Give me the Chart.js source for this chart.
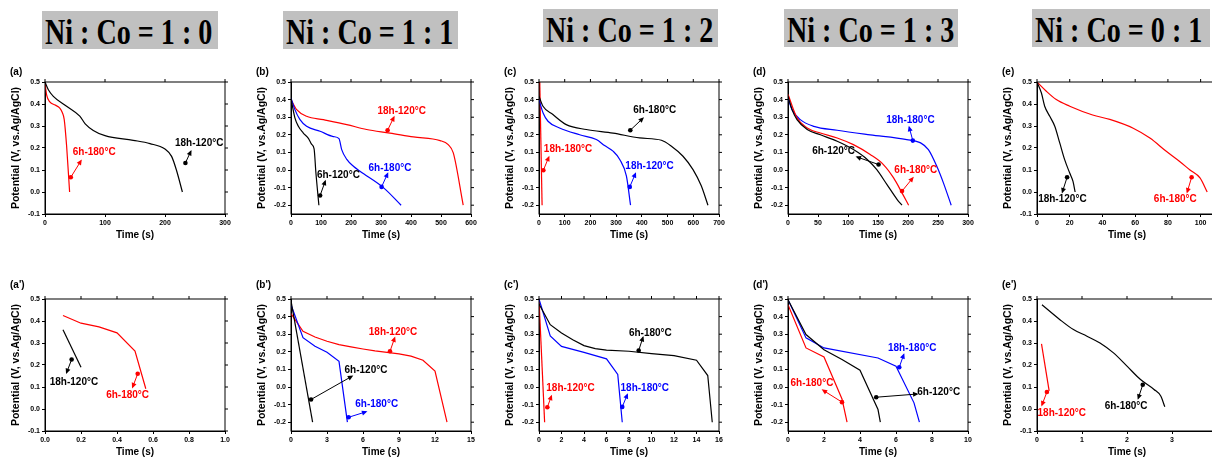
<!DOCTYPE html>
<html>
<head>
<meta charset="utf-8">
<script src="https://cdn.jsdelivr.net/npm/chart.js@4/dist/chart.umd.min.js"></script>
<style>
html, body { margin: 0; padding: 0; background: #fff; overflow: hidden; width: 1212px; height: 458px; }
.hdr { position: absolute; height: 38px; background: #c0c0c0; overflow: hidden; }
.hdr span { position: absolute; left: 3px; top: 0; line-height: 38px; font: bold 36px "Liberation Serif", "Times New Roman", serif;
  white-space: nowrap; transform: scaleX(0.78); transform-origin: 0 0; color: #000; }
canvas { position: absolute; }
</style>
</head>
<body>
<script>
// header ratios
const ratios = ['Ni : Co = 1 : 0', 'Ni : Co = 1 : 1', 'Ni : Co = 1 : 2', 'Ni : Co = 1 : 3', 'Ni : Co = 0 : 1'];

// (a) Ni:Co = 1:0, long discharge
const aBlackT = [0, 5.6, 13.9, 36, 58, 67, 80.5, 100, 147, 175, 200, 211, 219, 229];
const aBlackV = [0.5, 0.465, 0.435, 0.39, 0.345, 0.31, 0.28, 0.256, 0.235, 0.22, 0.195, 0.162, 0.10, 0.0];
const aRedT = [0, 2.8, 8, 17, 25, 29, 32, 36, 41];
const aRedV = [0.495, 0.44, 0.41, 0.395, 0.38, 0.36, 0.33, 0.21, 0.0];

// (b) 1:1
const bBlackT = [0, 4, 13, 24, 41, 58, 69, 77, 83, 93];
const bBlackV = [0.41, 0.37, 0.296, 0.25, 0.21, 0.18, 0.145, 0.12, -0.016, -0.2];
const bBlueT = [0, 13, 30, 52, 97, 141, 160, 169, 186, 208, 230, 308, 367];
const bBlueV = [0.41, 0.343, 0.286, 0.248, 0.22, 0.19, 0.178, 0.116, 0.06, 0.021, -0.007, -0.1, -0.2];
const bRedT = [0, 19, 52, 108, 186, 252, 330, 408, 497, 524, 541, 574];
const bRedV = [0.40, 0.343, 0.305, 0.286, 0.258, 0.23, 0.21, 0.188, 0.167, 0.144, 0.097, -0.2];

// (c) 1:2
const cRedT = [3, 12];
const cRedV = [0.5, -0.2];
const cBlackT = [0, 15.6, 54, 106, 184, 288, 391, 476, 515, 560, 599, 631, 657];
const cBlackV = [0.419, 0.362, 0.315, 0.258, 0.23, 0.21, 0.182, 0.169, 0.135, 0.078, 0.002, -0.09, -0.2];
const cBlueT = [0, 16, 35, 80, 158, 223, 255, 288, 314, 340, 356];
const cBlueV = [0.40, 0.324, 0.277, 0.239, 0.2, 0.173, 0.139, 0.107, 0.06, -0.035, -0.2];

// (d) 1:3
const dBlackT = [0, 6.7, 15, 32, 54, 82, 109, 132, 148, 165, 182, 190];
const dBlackV = [0.419, 0.343, 0.286, 0.23, 0.2, 0.163, 0.116, 0.06, 0.002, -0.083, -0.168, -0.2];
const dRedT = [0, 15, 32, 54, 82, 109, 137, 159, 176, 190, 201];
const dRedV = [0.43, 0.296, 0.239, 0.21, 0.182, 0.144, 0.088, 0.031, -0.045, -0.13, -0.2];
const dBlueT = [0, 6.7, 20.5, 43, 82, 137, 198, 221, 234, 248, 259, 272];
const dBlueV = [0.41, 0.343, 0.286, 0.248, 0.226, 0.2, 0.173, 0.154, 0.116, 0.021, -0.073, -0.2];

// (e) 0:1
const eBlackT = [0, 2.7, 4.7, 7.8, 10.8, 13.9, 16.9, 20, 22, 23.3];
const eBlackV = [0.5, 0.45, 0.39, 0.344, 0.3, 0.223, 0.147, 0.086, 0.048, 0.0];
const eRedT = [0, 5.7, 11.8, 20, 34, 44.5, 58.8, 69, 79, 87, 93.5, 99.6, 104];
const eRedV = [0.5, 0.458, 0.42, 0.39, 0.35, 0.33, 0.29, 0.245, 0.185, 0.14, 0.1, 0.064, 0.0];

// second row, short time scale
const a2BlackT = [0.1, 0.2];
const a2BlackV = [0.36, 0.19];
const a2RedT = [0.1, 0.2, 0.3, 0.4, 0.5, 0.56];
const a2RedV = [0.425, 0.39, 0.373, 0.346, 0.263, 0.092];

const b2BlackT = [0, 1.8];
const b2BlackV = [0.49, -0.2];
const b2BlueT = [0, 1, 2, 3, 4, 4.7];
const b2BlueV = [0.468, 0.28, 0.231, 0.197, 0.146, -0.2];
const b2RedT = [0, 1, 2, 3, 4, 5, 6, 7, 8, 9, 10, 11, 12, 13];
const b2RedV = [0.417, 0.316, 0.284, 0.26, 0.241, 0.228, 0.216, 0.205, 0.197, 0.188, 0.175, 0.152, 0.09, -0.2];

const c2RedT = [0, 0.5];
const c2RedV = [0.5, -0.2];
const c2BlackT = [0, 1, 2, 3, 4, 5, 6, 8, 10, 12, 14, 15, 15.4];
const c2BlackV = [0.472, 0.354, 0.307, 0.269, 0.235, 0.218, 0.21, 0.203, 0.19, 0.178, 0.152, 0.065, -0.2];
const c2BlueT = [0, 1, 2, 4, 6, 7, 7.4];
const c2BlueV = [0.5, 0.29, 0.231, 0.197, 0.16, 0.071, -0.2];

const d2BlackT = [0, 1, 2, 3, 4, 5, 5.13];
const d2BlackV = [0.496, 0.298, 0.212, 0.156, 0.095, -0.128, -0.2];
const d2BlueT = [0, 1, 2, 5, 6, 7, 7.3];
const d2BlueV = [0.496, 0.279, 0.222, 0.165, 0.118, -0.09, -0.2];
const d2RedT = [0, 1, 2, 3, 3.28];
const d2RedV = [0.468, 0.222, 0.171, -0.068, -0.2];

const e2BlackT = [0.11, 0.51, 0.81, 1.11, 1.4, 1.7, 2.0, 2.3, 2.6, 2.75, 2.84];
const e2BlackV = [0.474, 0.406, 0.361, 0.331, 0.3, 0.255, 0.195, 0.134, 0.089, 0.059, 0.01];
const e2RedT = [0.1, 0.27];
const e2RedV = [0.296, 0.082];

// tick labels
const yTicksA = [-0.1, 0, 0.1, 0.2, 0.3, 0.4, 0.5];
const yTicksB = [-0.2, -0.1, 0, 0.1, 0.2, 0.3, 0.4, 0.5];
const xTicksA = [0, 100, 200, 300];
const xTicksB = [0, 100, 200, 300, 400, 500, 600];
const xTicksC = [0, 100, 200, 300, 400, 500, 600, 700];
const xTicksD = [0, 50, 100, 150, 200, 250, 300];
const xTicksE = [0, 20, 40, 60, 80, 100];
const xTicksA2 = [0, 0.2, 0.4, 0.6, 0.8, 1.0];
const xTicksB2 = [0, 3, 6, 9, 12, 15];
const xTicksC2 = [0, 2, 4, 6, 8, 10, 12, 14, 16];
const xTicksD2 = [0, 2, 4, 6, 8, 10];
const xTicksE2 = [0, 1, 2, 3];

const RED = '#ff0000', BLUE = '#0000ff', BLACK = '#000000';
const FONT = '"Liberation Sans", Arial, sans-serif';
Chart.defaults.font.family = FONT;
Chart.defaults.color = '#000';

function ser(t, v, color) { return {t, v, color}; }
function note(text, color, tp, dp, ap) { return {text, color, tp, dp, ap}; }

const panels = [
  { letter: '(a)', row: 0, col: 0, xMax: 300, yMin: -0.1, xTicks: xTicksA, yTicks: yTicksA, xDec: 0, smooth: true,
    series: [ser(aBlackT, aBlackV, BLACK), ser(aRedT, aRedV, RED)],
    notes: [note('6h-180°C', RED, [82, 0.18], [43, 0.067], [60, 0.142]),
            note('18h-120°C', BLACK, [257, 0.223], [234, 0.132], [243, 0.185])] },
  { letter: '(b)', row: 0, col: 1, xMax: 600, yMin: -0.25, xTicks: xTicksB, yTicks: yTicksB, xDec: 0, smooth: true,
    series: [ser(bBlackT, bBlackV, BLACK), ser(bBlueT, bBlueV, BLUE), ser(bRedT, bRedV, RED)],
    notes: [note('18h-120°C', RED, [369, 0.333], [322, 0.226], [343, 0.30]),
            note('6h-180°C', BLUE, [330, 0.012], [302, -0.096], [322, -0.02]),
            note('6h-120°C', BLACK, [158, -0.03], [97, -0.145], [114, -0.064])] },
  { letter: '(c)', row: 0, col: 2, xMax: 700, yMin: -0.25, xTicks: xTicksC, yTicks: yTicksB, xDec: 0, smooth: true,
    series: [ser(cBlackT, cBlackV, BLACK), ser(cBlueT, cBlueV, BLUE), ser(cRedT, cRedV, RED)],
    notes: [note('6h-180°C', BLACK, [450, 0.337], [355, 0.226], [404, 0.294]),
            note('18h-180°C', RED, [113, 0.116], [17, -0.001], [38, 0.073]),
            note('18h-120°C', BLUE, [430, 0.021], [353, -0.096], [375, -0.02])] },
  { letter: '(d)', row: 0, col: 3, xMax: 300, yMin: -0.25, xTicks: xTicksD, yTicks: yTicksB, xDec: 0, smooth: true,
    series: [ser(dBlackT, dBlackV, BLACK), ser(dRedT, dRedV, RED), ser(dBlueT, dBlueV, BLUE)],
    notes: [note('18h-180°C', BLUE, [204, 0.28], [208, 0.167], [202, 0.243]),
            note('6h-120°C', BLACK, [76, 0.107], [151, 0.031], [115, 0.074]),
            note('6h-180°C', RED, [213, -0.003], [190, -0.12], [208, -0.045])] },
  { letter: '(e)', row: 0, col: 4, xMax: 110, yMin: -0.1, xTicks: xTicksE, yTicks: yTicksA, xDec: 0, smooth: true,
    series: [ser(eBlackT, eBlackV, BLACK), ser(eRedT, eRedV, RED)],
    notes: [note('18h-120°C', BLACK, [15.5, -0.032], [18.4, 0.067], [15.5, 0.0]),
            note('6h-180°C', RED, [84.5, -0.032], [94.5, 0.067], [91.8, 0.0])] },
  { letter: "(a')", row: 1, col: 0, xMax: 1.0, yMin: -0.1, xTicks: xTicksA2, yTicks: yTicksA, xDec: 1, smooth: false,
    series: [ser(a2BlackT, a2BlackV, BLACK), ser(a2RedT, a2RedV, RED)],
    notes: [note('18h-120°C', BLACK, [0.161, 0.122], [0.148, 0.225], [0.12, 0.165]),
            note('6h-180°C', RED, [0.459, 0.062], [0.515, 0.16], [0.487, 0.1])] },
  { letter: "(b')", row: 1, col: 1, xMax: 15, yMin: -0.25, xTicks: xTicksB2, yTicks: yTicksB, xDec: 0, smooth: false,
    series: [ser(b2BlackT, b2BlackV, BLACK), ser(b2BlueT, b2BlueV, BLUE), ser(b2RedT, b2RedV, RED)],
    notes: [note('18h-120°C', RED, [8.5, 0.313], [8.25, 0.203], [8.64, 0.279]),
            note('6h-120°C', BLACK, [6.25, 0.095], [1.67, -0.071], [5.08, 0.061]),
            note('6h-180°C', BLUE, [7.14, -0.1], [4.8, -0.172], [6.25, -0.141])] },
  { letter: "(c')", row: 1, col: 2, xMax: 16, yMin: -0.25, xTicks: xTicksC2, yTicks: yTicksB, xDec: 0, smooth: false,
    series: [ser(c2BlackT, c2BlackV, BLACK), ser(c2BlueT, c2BlueV, BLUE), ser(c2RedT, c2RedV, RED)],
    notes: [note('6h-180°C', BLACK, [9.9, 0.303], [8.86, 0.207], [9.24, 0.282]),
            note('18h-120°C', RED, [2.8, -0.005], [0.74, -0.115], [1.1, -0.052]),
            note('18h-180°C', BLUE, [9.4, -0.005], [7.4, -0.113], [7.85, -0.043])] },
  { letter: "(d')", row: 1, col: 3, xMax: 10, yMin: -0.25, xTicks: xTicksD2, yTicks: yTicksB, xDec: 0, smooth: false,
    series: [ser(d2BlackT, d2BlackV, BLACK), ser(d2BlueT, d2BlueV, BLUE), ser(d2RedT, d2RedV, RED)],
    notes: [note('18h-180°C', BLUE, [6.9, 0.218], [6.18, 0.112], [6.43, 0.184]),
            note('6h-180°C', RED, [1.33, 0.023], [3.0, -0.086], [1.94, -0.018]),
            note('6h-120°C', BLACK, [8.37, -0.03], [4.9, -0.058], [7.17, -0.04])] },
  { letter: "(e')", row: 1, col: 4, xMax: 4, yMin: -0.1, xTicks: xTicksE2, yTicks: yTicksA, xDec: 0, smooth: true,
    series: [ser(e2BlackT, e2BlackV, BLACK), ser(e2RedT, e2RedV, RED)],
    notes: [note('18h-120°C', RED, [0.55, -0.02], [0.22, 0.077], [0.11, 0.018]),
            note('6h-180°C', BLACK, [1.98, 0.014], [2.35, 0.11], [2.25, 0.049])] },
];

// page layout
const hdrLeft = [42, 283, 543, 784, 1032];
const hdrTop = [11, 11, 9, 9, 9];
const hdrWidth = [176, 175, 175, 174, 178];
const canvasLeft = [0, 246, 494, 743, 992];
const canvasTop = [57, 274];
const letterGap = [10, 14];
const CW = 237, CH = 197;

ratios.forEach((r, i) => {
  const d = document.createElement('div');
  d.className = 'hdr';
  d.style.left = hdrLeft[i] + 'px';
  d.style.top = hdrTop[i] + 'px';
  d.style.width = hdrWidth[i] + 'px';
  const s = document.createElement('span');
  s.textContent = r;
  d.appendChild(s);
  document.body.appendChild(d);
});

const framePlugin = {
  id: 'frame',
  afterDraw(chart, args, opts) {
    const {ctx, chartArea: a, scales: {x, y}} = chart;
    ctx.save();
    ctx.strokeStyle = '#000';
    ctx.lineWidth = 1;
    ctx.strokeRect(a.left, a.top, a.right - a.left, a.bottom - a.top);
    ctx.beginPath();
    x.ticks.forEach(t => {
      const px = x.getPixelForValue(t.value);
      ctx.moveTo(px, a.top); ctx.lineTo(px, a.top - 3);
    });
    y.ticks.forEach(t => {
      const py = y.getPixelForValue(t.value);
      ctx.moveTo(a.right, py); ctx.lineTo(a.right + 3, py);
    });
    ctx.stroke();
    ctx.fillStyle = '#000';
    ctx.font = 'bold 10px ' + FONT;
    ctx.textAlign = 'left';
    ctx.textBaseline = 'middle';
    ctx.fillText(opts.letter, a.left - 35, a.top - opts.gap);
    ctx.restore();
  }
};

const notesPlugin = {
  id: 'notes',
  afterDatasetsDraw(chart, args, opts) {
    const {ctx, scales: {x, y}} = chart;
    ctx.save();
    opts.items.forEach(n => {
      const tx = x.getPixelForValue(n.tp[0]), ty = y.getPixelForValue(n.tp[1]);
      const dx = x.getPixelForValue(n.dp[0]), dy = y.getPixelForValue(n.dp[1]);
      const ax = x.getPixelForValue(n.ap[0]), ay = y.getPixelForValue(n.ap[1]);
      ctx.strokeStyle = n.color;
      ctx.fillStyle = n.color;
      ctx.lineWidth = 1;
      ctx.beginPath();
      ctx.moveTo(dx, dy); ctx.lineTo(ax, ay);
      ctx.stroke();
      const ang = Math.atan2(ay - dy, ax - dx);
      ctx.beginPath();
      ctx.moveTo(ax + Math.cos(ang) * 1.5, ay + Math.sin(ang) * 1.5);
      ctx.lineTo(ax - Math.cos(ang) * 4 - Math.sin(ang) * 2.5, ay - Math.sin(ang) * 4 + Math.cos(ang) * 2.5);
      ctx.lineTo(ax - Math.cos(ang) * 4 + Math.sin(ang) * 2.5, ay - Math.sin(ang) * 4 - Math.cos(ang) * 2.5);
      ctx.closePath();
      ctx.fill();
      ctx.beginPath();
      ctx.arc(dx, dy, 2.3, 0, Math.PI * 2);
      ctx.fill();
      ctx.font = 'bold 10px ' + FONT;
      ctx.textAlign = 'center';
      ctx.textBaseline = 'middle';
      ctx.fillText(n.text, tx, ty);
    });
    ctx.restore();
  }
};

function makePanel(p) {
  const cv = document.createElement('canvas');
  cv.width = CW; cv.height = CH;
  cv.style.left = canvasLeft[p.col] + 'px';
  cv.style.top = canvasTop[p.row] + 'px';
  document.body.appendChild(cv);
  const axisLine = {display: true, drawOnChartArea: false, drawTicks: true, tickLength: 3, color: '#000', lineWidth: 1};
  new Chart(cv, {
    type: 'line',
    data: {
      datasets: p.series.map(s => ({
        data: s.t.map((t, i) => ({x: t, y: s.v[i]})),
        borderColor: s.color,
        backgroundColor: s.color,
        borderWidth: 1.2,
        pointRadius: 0,
        fill: false,
        tension: 0,
        cubicInterpolationMode: p.smooth ? 'monotone' : 'default'
      }))
    },
    options: {
      responsive: false,
      animation: false,
      events: [],
      layout: {padding: {top: 25, right: 12, bottom: 0, left: 0}},
      plugins: {
        legend: {display: false},
        tooltip: {enabled: false},
        frame: {letter: p.letter, gap: letterGap[p.row]},
        notes: {items: p.notes}
      },
      scales: {
        x: {
          type: 'linear', min: 0, max: p.xMax,
          afterBuildTicks: sc => { sc.ticks = p.xTicks.map(v => ({value: v})); },
          afterFit: sc => { sc.height = 40; },
          ticks: {font: {size: 7, weight: 'bold'}, padding: 2, maxRotation: 0, autoSkip: false,
                  callback: v => Number(v).toFixed(p.xDec)},
          grid: axisLine,
          border: {display: true, color: '#000', width: 1},
          title: {display: true, text: 'Time (s)', font: {size: 10, weight: 'bold'}, padding: {top: 0, bottom: 13}}
        },
        y: {
          type: 'linear', min: p.yMin, max: 0.5,
          afterBuildTicks: sc => { sc.ticks = p.yTicks.map(v => ({value: v})); },
          afterFit: sc => { sc.width = 45; },
          ticks: {font: {size: 7, weight: 'bold'}, padding: 2, autoSkip: false,
                  callback: v => Number(v).toFixed(1)},
          grid: axisLine,
          border: {display: true, color: '#000', width: 1},
          title: {display: true, text: 'Potential (V, vs.Ag/AgCl)', font: {size: 10.5, weight: 'bold'}, padding: {top: 10, bottom: 0}}
        }
      }
    },
    plugins: [framePlugin, notesPlugin]
  });
}

panels.forEach(makePanel);
</script>
</body>
</html>
